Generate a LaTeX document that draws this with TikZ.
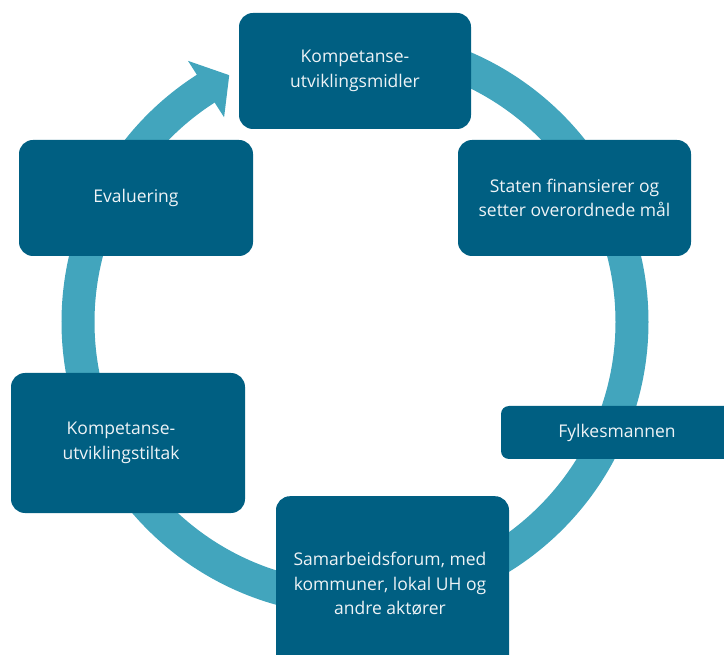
\documentclass[tikz,border=0pt]{standalone}
\usepackage{fontspec}
\setmainfont{Open Sans}
\usetikzlibrary{calc}
\definecolor{boxc}{HTML}{005F82}
\definecolor{ringc}{HTML}{42A5BD}
\definecolor{txtc}{HTML}{EEF3F6}
\tikzset{
  stagefont/.style={font=\fontsize{17.5pt}{24.5pt}\selectfont},
  stagebox/.style={fill=boxc, rounded corners=14pt, text=txtc, align=center,
    stagefont, inner sep=0pt},
  ringline/.style={draw=ringc, line width=33pt}
}
\begin{document}
\begin{tikzpicture}[x=1pt,y=1pt]
\useasboundingbox (0,0) rectangle (724,-655);
\clip (0,0) rectangle (724,-655);
\coordinate (c) at (355,-322);
% ring with arrow
\draw[ringline] ($(c)+(90:277)$) arc[start angle=90, end angle=-237.9, radius=277];
\fill[ringc] ($(c)+(122.6:243)$) coordinate (hb1) -- ($(c)+(117:277)$) coordinate (tip) -- ($(c)+(122.6:310)$) coordinate (hb2) -- cycle;
% boxes
\node[stagebox, minimum width=232pt, minimum height=116pt] (top) at (355,-71) {Kompetanse-\\utviklingsmidler};
\node[stagebox, minimum width=233pt, minimum height=116pt] (staten) at (574.5,-198) {Staten finansierer og\\setter overordnede mål};
\node[stagebox, minimum width=234pt, minimum height=116pt] (eval) at (136,-198) {Evaluering};
\node[stagebox, minimum width=234pt, minimum height=140pt] (tiltak) at (128,-443) {\hspace*{-14pt}Kompetanse-\\\hspace*{-14pt}utviklingstiltak};
\node[stagebox, minimum width=233pt, minimum height=190pt, anchor=north] (samarb) at (392.5,-496) {};
\node[text=txtc, align=center, stagefont, inner sep=0pt] (samarbtxt) at (390,-584) {Samarbeidsforum, med\\kommuner, lokal UH og\\andre aktører};
\node[stagebox, rounded corners=8pt, minimum width=232pt, minimum height=53pt] (fylke) at (617,-432.5) {Fylkesmannen};
\end{tikzpicture}
\end{document}
